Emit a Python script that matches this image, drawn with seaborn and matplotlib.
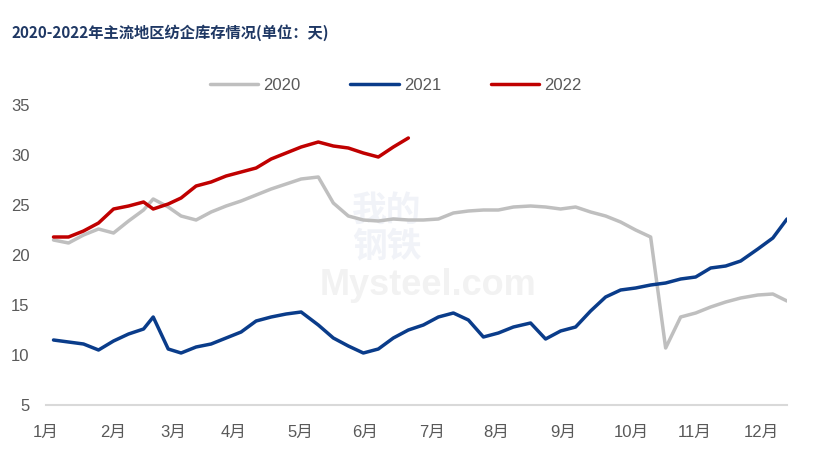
import matplotlib
matplotlib.use('Agg')
import matplotlib.pyplot as plt
import seaborn as sns
import pandas as pd

# x position of each weekly reading, in days from the start of the axis
x_days = [3.5, 10.5, 17.5, 24.5, 31.5, 38.5, 45.5, 50, 57, 63,
          70, 77, 84, 91, 98, 105, 112, 119, 127, 134,
          141, 148, 155, 162, 169, 176, 183, 190, 197, 204,
          211, 218, 226, 233, 240, 247, 254, 261, 268, 275,
          282, 289, 296, 303, 310, 317, 324, 332, 339, 345.6]

inv_2020 = [21.5, 21.2, 22.0, 22.6, 22.2, 23.4, 24.5, 25.6, 24.8, 23.9,
            23.5, 24.3, 24.9, 25.4, 26.0, 26.6, 27.1, 27.6, 27.8, 25.2,
            23.9, 23.5, 23.4, 23.6, 23.5, 23.5, 23.6, 24.2, 24.4, 24.5,
            24.5, 24.8, 24.9, 24.8, 24.6, 24.8, 24.3, 23.9, 23.3, 22.5,
            21.8, 10.7, 13.8, 14.2, 14.8, 15.3, 15.7, 16.0, 16.1, 15.4]

inv_2021 = [11.5, 11.3, 11.1, 10.5, 11.4, 12.1, 12.6, 13.8, 10.6, 10.2,
            10.8, 11.1, 11.7, 12.3, 13.4, 13.8, 14.1, 14.3, 13.0, 11.7,
            10.9, 10.2, 10.6, 11.7, 12.5, 13.0, 13.8, 14.2, 13.5, 11.8,
            12.2, 12.8, 13.2, 11.6, 12.4, 12.8, 14.4, 15.8, 16.5, 16.7,
            17.0, 17.2, 17.6, 17.8, 18.7, 18.9, 19.4, 20.6, 21.7, 23.6]

inv_2022 = [21.8, 21.8, 22.4, 23.2, 24.6, 24.9, 25.3, 24.6, 25.1, 25.7,
            26.9, 27.3, 27.9, 28.3, 28.7, 29.6, 30.2, 30.8, 31.3, 30.9,
            30.7, 30.2, 29.8, 30.8, 31.7]

month_pos = [0, 31.3, 59.3, 87.3, 118.4, 148.9, 179.9, 210.1, 241.4, 272.8, 302.5, 333.8]
month_labels = ['1月', '2月', '3月', '4月', '5月', '6月', '7月', '8月', '9月', '10月', '11月', '12月']
years = ['2020', '2021', '2022']
colors = {'2020': '#BFBFBF', '2021': '#0A3C8A', '2022': '#C00000'}

frames = []
for year, vals in zip(years, [inv_2020, inv_2021, inv_2022]):
    frames.append(pd.DataFrame({'day': x_days[:len(vals)], 'value': vals, 'year': year}))
df = pd.concat(frames, ignore_index=True)

sns.set_style('white')
plt.rcParams['font.family'] = ['Liberation Sans', 'Noto Sans CJK SC']

fig = plt.figure(figsize=(8.16, 4.61), dpi=100)
ax = fig.add_axes([46 / 816, 56 / 461, 741 / 816, 300 / 461])

sns.lineplot(data=df, x='day', y='value', hue='year', palette=colors,
             linewidth=2.5, ax=ax, sort=False)

# faint watermark
ax.text(0.46, 0.59, '我的\n钢铁', transform=ax.transAxes, ha='center', va='center',
        fontsize=25, color='#F1F3F8', fontweight='bold', zorder=0, linespacing=1.0,
        family=['Noto Sans CJK SC'])
ax.text(0.515, 0.40, 'Mysteel.com', transform=ax.transAxes, ha='center', va='center',
        fontsize=26, color='#F2F2F2', fontweight='bold', zorder=0)

ax.set_xlim(0, 345.6)
ax.set_ylim(5, 35)
ax.set_yticks([5, 10, 15, 20, 25, 30, 35])
ax.set_xticks(month_pos)
ax.set_xticklabels(month_labels)
ax.set_xlabel('')
ax.set_ylabel('')
ax.tick_params(axis='y', length=0, pad=12, labelsize=12, labelcolor='#595959')
ax.tick_params(axis='x', length=4, width=1.2, color='#D9D9D9', direction='out',
               pad=10, labelsize=12, labelcolor='#595959')
for s in ['top', 'right', 'left']:
    ax.spines[s].set_visible(False)
ax.spines['bottom'].set_color('#D9D9D9')
ax.spines['bottom'].set_linewidth(1.5)

ax.legend(loc='center', bbox_to_anchor=(0.472, 1.065), ncol=3, frameon=False,
          fontsize=12, handlelength=2.9, columnspacing=3.0, handletextpad=0.3,
          labelcolor='#595959')

fig.text(12 / 816, 1 - 33 / 461, '2020-2022年主流地区纺企库存情况(单位：天)',
         ha='left', va='center', fontsize=11, fontweight='bold', color='#1F3864',
         family=['Noto Sans CJK SC'])

fig.savefig('out.png', dpi=100)
